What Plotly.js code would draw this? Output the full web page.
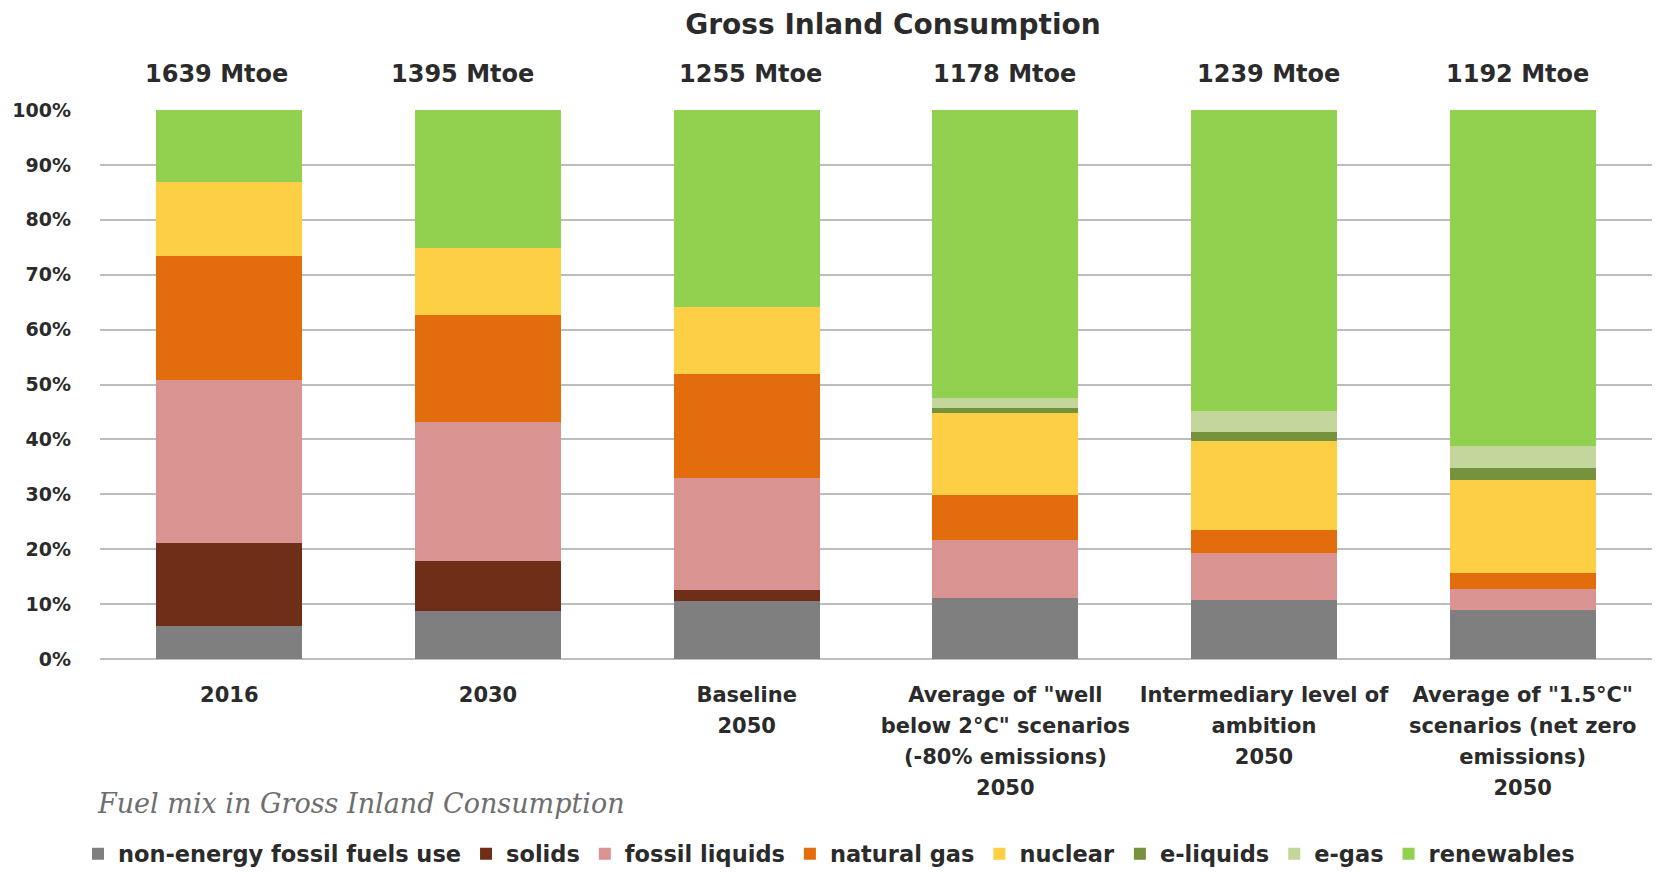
<!DOCTYPE html>
<html>
<head>
<meta charset="utf-8">
<script src="https://cdn.plot.ly/plotly-3.0.1.min.js"></script>
<style>html,body{margin:0;padding:0;background:#fff;}#chart{width:1662px;height:872px;}</style>
</head>
<body>
<div id="chart"></div>
<script>
// Categories (x tick labels)
const categories = [
  "2016",
  "2030",
  "Baseline<br>2050",
  "Average of \"well<br>below 2°C\" scenarios<br>(-80% emissions)<br>2050",
  "Intermediary level of<br>ambition<br>2050",
  "Average of \"1.5°C\"<br>scenarios (net zero<br>emissions)<br>2050"
];
// Totals shown above bars
const totalsLabels = ["1639 Mtoe", "1395 Mtoe", "1255 Mtoe", "1178 Mtoe", "1239 Mtoe", "1192 Mtoe"];

// Shares (%)
const nonEnergy     = [6.0, 8.7, 10.6, 11.1, 10.8, 9.0];
const solids        = [15.2, 9.2, 1.9, 0.0, 0.0, 0.0];
const fossilLiquids = [29.7, 25.2, 20.4, 10.6, 8.5, 3.7];
const naturalGas    = [22.5, 19.6, 19.0, 8.1, 4.2, 2.9];
const nuclear       = [13.4, 12.2, 12.3, 15.0, 16.2, 17.0];
const eLiquids      = [0.0, 0.0, 0.0, 0.9, 1.6, 2.2];
const eGas          = [0.0, 0.0, 0.0, 1.8, 3.9, 4.0];
const renewables    = [13.2, 25.3, 35.8, 52.5, 54.8, 61.2];

const seriesNames  = ["non-energy fossil fuels use", "solids", "fossil liquids", "natural gas", "nuclear", "e-liquids", "e-gas", "renewables"];
const seriesValues = [nonEnergy, solids, fossilLiquids, naturalGas, nuclear, eLiquids, eGas, renewables];
const seriesColors = ["#7f7f7f", "#6e2e17", "#d99391", "#e36c0c", "#fdcf45", "#76923c", "#c3d69b", "#92d050"];

// layout-only: horizontal nudge of the total labels (px), as in the original
const totalLabelShift = [-13, -26, 4, -1, 4, -5];

const FONT = "DejaVu Sans, Open Sans, Arial, sans-serif";
const TXT = "#2b2b2b";

const catIndex = categories.map((c, i) => i);
const catLines = categories.map(c => c.split("<br>"));
const maxLines = Math.max(...catLines.map(l => l.length));

const traces = seriesNames.map((n, i) => ({
  type: "bar",
  name: n,
  x: catIndex,
  y: seriesValues[i],
  marker: {color: seriesColors[i], line: {width: 0}},
  hoverinfo: "name+y"
}));

// empty traces that only register the extra (overlaid) label axes; they draw nothing
for (let k = 1; k < maxLines; k++) {
  traces.push({
    type: "scatter", mode: "markers", x: [], y: [],
    xaxis: "x" + (k + 1), yaxis: "y",
    showlegend: false, hoverinfo: "skip"
  });
}

const annotations = totalsLabels.map((t, i) => ({
  x: catIndex[i], xref: "x", y: 1, yref: "paper",
  yanchor: "middle", yshift: 36, xshift: totalLabelShift[i],
  text: "<b>" + t + "</b>",
  showarrow: false,
  font: {family: FONT, size: 24, color: TXT}
}));
annotations.push({
  xref: "paper", yref: "paper", x: -0.003, y: -0.264,
  xanchor: "left", yanchor: "middle",
  text: "<i>Fuel mix in Gross Inland Consumption</i>",
  showarrow: false,
  font: {family: "DejaVu Serif, serif", size: 27, color: "#6e6e6e"}
});

const LINE_GAP = 31;
function xAxisForLine(k) {
  return {
    range: [-0.5, 5.5], autorange: false,
    tickmode: "array", tickvals: catIndex,
    ticktext: catLines.map(l => l[k] || ""),
    tickfont: {family: FONT, size: 21, color: TXT, weight: "bold"},
    showgrid: false, showline: false, zeroline: false, ticks: "",
    ticklabelstandoff: 21 + LINE_GAP * k,
    fixedrange: true
  };
}

const layout = {
  width: 1662, height: 872,
  paper_bgcolor: "#ffffff", plot_bgcolor: "#ffffff",
  margin: {l: 100, r: 10, t: 110, b: 213},
  barmode: "stack",
  bargap: 0.436,
  title: {
    text: "<b>Gross Inland Consumption</b>",
    xref: "container", yref: "container",
    x: 893/1662, y: 1 - 24/872, xanchor: "center", yanchor: "middle",
    font: {family: FONT, size: 28, color: TXT}
  },
  yaxis: {
    range: [0, 100], dtick: 10, ticksuffix: "%",
    tickfont: {family: FONT, size: 19, color: TXT, weight: "bold"},
    gridcolor: "#bdbdbd", gridwidth: 2,
    zeroline: true, zerolinecolor: "#bdbdbd", zerolinewidth: 2,
    showline: false, ticks: "",
    ticklabelstandoff: 28
  },
  showlegend: true,
  legend: {
    orientation: "h", traceorder: "normal",
    xref: "container", yref: "container",
    x: 78/1662, y: 1 - 854/872, xanchor: "left", yanchor: "middle",
    font: {family: FONT, size: 22.5, color: TXT, weight: "bold"},
    itemwidth: 30, bgcolor: "rgba(0,0,0,0)"
  },
  annotations: annotations
};

for (let k = 0; k < maxLines; k++) {
  const ax = xAxisForLine(k);
  if (k === 0) {
    layout.xaxis = ax;
  } else {
    ax.overlaying = "x";
    ax.anchor = "y";
    ax.side = "bottom";
    layout["xaxis" + (k + 1)] = ax;
  }
}

Plotly.newPlot("chart", traces, layout, {displayModeBar: false, staticPlot: true});
</script>
</body>
</html>
